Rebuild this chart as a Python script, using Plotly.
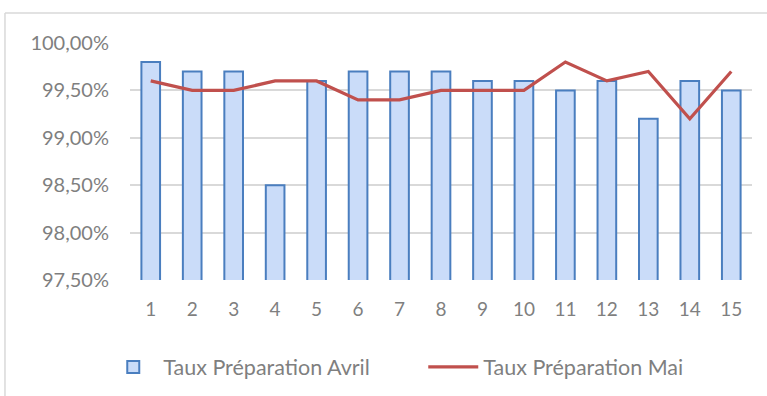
import plotly.graph_objects as go

jours = [str(i) for i in range(1, 16)]
taux_avril = [99.8, 99.7, 99.7, 98.5, 99.6, 99.7, 99.7, 99.7, 99.6, 99.6, 99.5, 99.6, 99.2, 99.6, 99.5]
taux_mai = [99.6, 99.5, 99.5, 99.6, 99.6, 99.4, 99.4, 99.5, 99.5, 99.5, 99.8, 99.6, 99.7, 99.2, 99.7]
y_ticks = [97.5, 98.0, 98.5, 99.0, 99.5, 100.0]
y_tick_labels = [f"{v:.2f}".replace(".", ",") + "%" for v in y_ticks]

font_family = "Lato, 'Open Sans', sans-serif"
grey_text = "#7f7f7f"
grid = "#d9d9d9"

fig = go.Figure()
fig.add_trace(go.Bar(
    x=jours, y=taux_avril, name="Taux Préparation Avril",
    marker=dict(color="#cadcf9", line=dict(color="#4a7ebf", width=2)),
    width=0.45,
))
fig.add_trace(go.Scatter(
    x=jours, y=taux_mai, name="Taux Préparation Mai", mode="lines",
    line=dict(color="#c0504d", width=3.2),
))

fig.update_layout(
    width=767, height=396,
    margin=dict(l=130, r=15, t=43, b=116, autoexpand=False),
    paper_bgcolor="white", plot_bgcolor="white",
    font=dict(family=font_family, size=19, color=grey_text),
    showlegend=True,
    legend=dict(orientation="h", x=-0.043, xanchor="left", y=-0.367, yanchor="middle",
                font=dict(size=21.5, color=grey_text), itemwidth=50,
                entrywidth=255, entrywidthmode="pixels", bgcolor="rgba(0,0,0,0)"),
    shapes=[
        dict(type="line", xref="paper", yref="paper", x0=-0.201, x1=1.03, y0=1.1266, y1=1.1266,
             line=dict(color=grid, width=1.5)),
        dict(type="line", xref="paper", yref="paper", x0=-0.201, x1=-0.201, y0=1.1266, y1=-0.5,
             line=dict(color=grid, width=1.5)),
    ],
)
fig.update_xaxes(
    type="category", showgrid=False, showline=False, ticks="", automargin=False,
    tickfont=dict(size=19, color=grey_text), ticklabelstandoff=16,
)
fig.update_yaxes(
    range=[97.5, 100.0], tickvals=y_ticks, ticktext=y_tick_labels, automargin=False,
    showgrid=True, gridcolor=grid, gridwidth=1.5, zeroline=False, showline=False,
    tickfont=dict(size=20, color=grey_text), ticklabelstandoff=20,
)

fig.write_html("out.html")
